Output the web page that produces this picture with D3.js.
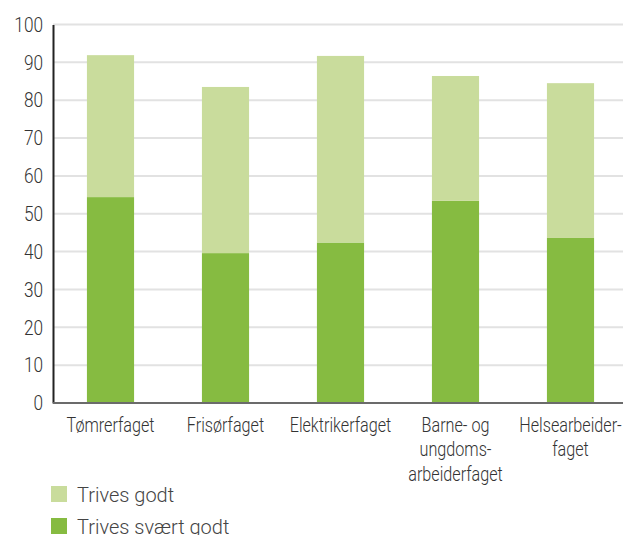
<!DOCTYPE html>
<html>
<head>
<meta charset="utf-8">
<script src="https://cdn.jsdelivr.net/npm/d3@7"></script>
<style>
  html, body { margin: 0; padding: 0; background: #fff; }
  svg { display: block; }
  text { font-family: "Roboto", "Liberation Sans", sans-serif; font-weight: 300; fill: #333; }
</style>
</head>
<body>
<svg id="chart" width="623" height="535"></svg>
<script>
// Trivsel per lærefag (prosent)
const categories = [
  ["Tømrerfaget"],
  ["Frisørfaget"],
  ["Elektrikerfaget"],
  ["Barne- og", "ungdoms-", "arbeiderfaget"],
  ["Helsearbeider-", "faget"]
];
const svaertGodt = [54.4, 39.6, 42.4, 53.4, 43.6];
const godt = [37.5, 43.9, 49.3, 33.0, 40.9];
const seriesNames = ["Trives godt", "Trives svært godt"];
const seriesColors = ["#c9dc9c", "#86bb41"];
const yTicks = [0, 10, 20, 30, 40, 50, 60, 70, 80, 90, 100];

// condensed look: horizontal squeeze for axis labels
const labelSqueeze = 0.77;
const tickSqueeze = 0.82;
const fontSize = 21;

const svg = d3.select("#chart");
const plotLeft = 53, plotRight = 628, plotTop = 24.5, plotBottom = 403;

const x = d3.scaleBand()
  .domain(d3.range(categories.length))
  .range([plotLeft, plotRight])
  .paddingInner(0.59)
  .paddingOuter(0.295);

const y = d3.scaleLinear().domain([0, 100]).range([plotBottom, plotTop]);

// gridlines
svg.append("g")
  .selectAll("line")
  .data(yTicks.filter(d => d > 0))
  .join("line")
  .attr("x1", plotLeft).attr("x2", 623)
  .attr("y1", d => y(d)).attr("y2", d => y(d))
  .attr("stroke", "#e2e2e2")
  .attr("stroke-width", 2);

// y-axis
const yAxis = svg.append("g")
  .attr("transform", `translate(${plotLeft},0)`)
  .call(d3.axisLeft(y).tickValues(yTicks).tickSize(0).tickPadding(10 / tickSqueeze));
yAxis.select(".domain").attr("stroke", "#222").attr("stroke-width", 2);
yAxis.selectAll("text")
  .style("font-size", fontSize + "px")
  .attr("fill", "#333")
  .attr("transform", `scale(${tickSqueeze},1)`);

// stacked bars
const rows = svaertGodt.map((v, i) => ({ i, dark: v, light: godt[i] }));
const bars = svg.append("g");
bars.selectAll("rect.dark")
  .data(rows)
  .join("rect")
  .attr("class", "dark")
  .attr("x", d => x(d.i))
  .attr("width", x.bandwidth())
  .attr("y", d => y(d.dark))
  .attr("height", d => y(0) - y(d.dark))
  .attr("fill", seriesColors[1]);
bars.selectAll("rect.light")
  .data(rows)
  .join("rect")
  .attr("class", "light")
  .attr("x", d => x(d.i))
  .attr("width", x.bandwidth())
  .attr("y", d => y(d.dark + d.light))
  .attr("height", d => y(d.dark) - y(d.dark + d.light))
  .attr("fill", seriesColors[0]);

// x baseline
svg.append("line")
  .attr("x1", plotLeft).attr("x2", 623)
  .attr("y1", y(0)).attr("y2", y(0))
  .attr("stroke", "#6b6b6b")
  .attr("stroke-width", 2);

// category labels
const labels = svg.append("g");
categories.forEach((lines, i) => {
  const g = labels.append("g")
    .attr("transform", `translate(${x(i) + x.bandwidth() / 2},431.5) scale(${labelSqueeze},1)`);
  const t = g.append("text")
    .attr("text-anchor", "middle")
    .style("font-size", fontSize + "px");
  lines.forEach((ln, k) => {
    t.append("tspan")
      .attr("x", 0)
      .attr("dy", k === 0 ? 0 : 25)
      .text(ln);
  });
});

// legend
const legend = svg.append("g");
seriesNames.forEach((name, k) => {
  const ly = 486 + k * 32;
  legend.append("rect")
    .attr("x", 51).attr("y", ly)
    .attr("width", 16).attr("height", 16)
    .attr("fill", seriesColors[k]);
  legend.append("text")
    .attr("x", 77).attr("y", ly + 15.5)
    .style("font-size", "20px")
    .style("fill", "#444")
    .text(name);
});
</script>
</body>
</html>
